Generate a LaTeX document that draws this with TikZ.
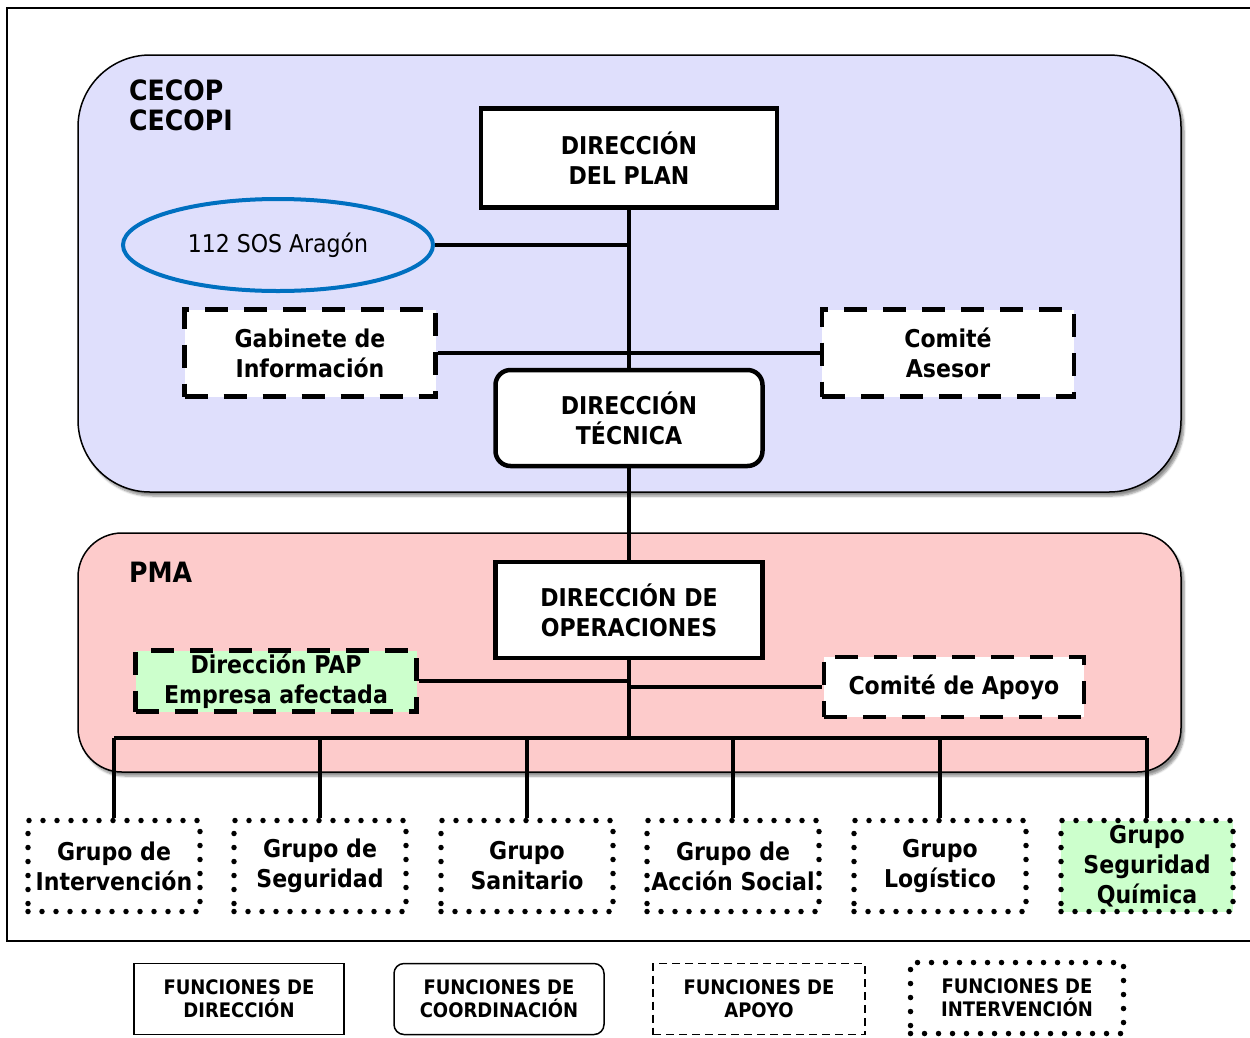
\documentclass[tikz,border=0pt]{standalone}
\usepackage{fontspec}
\setmainfont{DejaVu Sans Condensed}[BoldFont={DejaVu Sans Condensed Bold}]
\usetikzlibrary{shapes.geometric,shadows.blur}
\definecolor{cecopfill}{RGB}{223,223,252}
\definecolor{pmafill}{RGB}{253,203,203}
\definecolor{papfill}{RGB}{204,255,204}
\definecolor{sosblue}{RGB}{0,112,192}

\begin{document}
\begin{tikzpicture}[x=1pt,y=-1pt,
  txt/.style={font=\bfseries\fontsize{24.5}{30}\selectfont, align=center, inner sep=0pt},
  dirbox/.style={txt, draw, line width=4.5pt, fill=white, minimum width=267pt, minimum height=96pt},
  tecbox/.style={dirbox, rounded corners=15pt},
  apoyobox/.style={txt, draw, line width=4.5pt, dash pattern=on 23pt off 16pt, fill=white},
  grupobox/.style={txt, draw, line width=5.5pt, line cap=round, dash pattern=on 0pt off 14pt, fill=white, minimum width=172pt, minimum height=91pt},
  leyenda/.style={font=\bfseries\fontsize{20}{23}\selectfont, align=center, inner sep=0pt, draw, line width=1.5pt, fill=white, minimum width=210pt, minimum height=71pt},
  panel/.style={draw, line width=1.5pt, blur shadow={shadow xshift=3pt, shadow yshift=-4pt, shadow blur steps=6, shadow opacity=45}},
  enlace/.style={line width=4.5pt}]
\useasboundingbox (0,0) rectangle (1250,1037);
\draw [line width=1.5pt] (7,8) rectangle (1262,941);
\draw [panel, fill=cecopfill, rounded corners=72pt] (78,55) rectangle (1181,492);
\draw [panel, fill=pmafill, rounded corners=44pt] (78,533) rectangle (1181,772);
\node [font=\bfseries\fontsize{28}{30}\selectfont, align=left, anchor=north west, inner sep=0pt] (cecop) at (129,80) {CECOP\\CECOPI};
\node [font=\bfseries\fontsize{28}{30}\selectfont, anchor=north west, inner sep=0pt] (pma) at (129,562) {PMA};

\node [dirbox, minimum width=296pt, minimum height=99pt] (plan) at (629,158) {DIRECCIÓN\\DEL PLAN};
\node [ellipse, draw=sosblue, line width=4pt, minimum width=310pt, minimum height=92pt, inner sep=0pt, font=\fontsize{24.5}{28}\selectfont] (sos) at (278,245) {112 SOS Aragón};
\node [apoyobox, minimum width=251pt, minimum height=87pt] (gab) at (310,353) {Gabinete de\\Información};
\node [apoyobox, minimum width=252pt, minimum height=87pt] (ases) at (948,353) {Comité\\Asesor};
\node [tecbox] (tec) at (629,418) {DIRECCIÓN\\TÉCNICA};
\node [dirbox] (oper) at (629,610) {DIRECCIÓN DE\\OPERACIONES};
\node [apoyobox, fill=papfill, minimum width=281pt, minimum height=61pt] (pap) at (276,681) {Dirección PAP\\Empresa afectada};
\node [apoyobox, minimum width=260pt, minimum height=60pt] (apoyo) at (954,687) {Comité de Apoyo};

\node [grupobox] (g1) at (114,866) {Grupo de\\Intervención};
\node [grupobox] (g2) at (320,866) {Grupo de\\Seguridad};
\node [grupobox] (g3) at (527,866) {Grupo\\Sanitario};
\node [grupobox] (g4) at (733,866) {Grupo de\\Acción Social};
\node [grupobox] (g5) at (940,866) {Grupo\\Logístico};
\node [grupobox, fill=papfill] (g6) at (1147,866) {Grupo\\Seguridad\\Química};
\coordinate (bus) at (629,738);

\draw [enlace] (plan.south) -- (tec.north);
\draw [enlace] (tec.south) -- (oper.north);
\draw [enlace] (sos.east) -- (sos.east -| plan.south);
\draw [enlace] (gab.east) -- (ases.west);
\draw [enlace] (pap.east) -- (pap.east -| oper.south);
\draw [enlace] (apoyo.west) -- (apoyo.west -| oper.south);
\draw [enlace] (oper.south) -- (bus);
\draw [enlace] (g1.north |- bus) -- (g6.north |- bus);
\draw [enlace] (g1.north) -- (g1.north |- bus);
\draw [enlace] (g2.north) -- (g2.north |- bus);
\draw [enlace] (g3.north) -- (g3.north |- bus);
\draw [enlace] (g4.north) -- (g4.north |- bus);
\draw [enlace] (g5.north) -- (g5.north |- bus);
\draw [enlace] (g6.north) -- (g6.north |- bus);

\node [leyenda] (ldir) at (239,999) {FUNCIONES DE\\DIRECCIÓN};
\node [leyenda, rounded corners=10pt] (lcoord) at (499,999) {FUNCIONES DE\\COORDINACIÓN};
\node [leyenda, dash pattern=on 8pt off 5pt, minimum width=212pt] (lapoyo) at (759,999) {FUNCIONES DE\\APOYO};
\node [leyenda, line width=5.5pt, line cap=round, dash pattern=on 0pt off 14pt, minimum width=213pt] (linter) at (1017,998) {FUNCIONES DE\\INTERVENCIÓN};
\end{tikzpicture}
\end{document}
